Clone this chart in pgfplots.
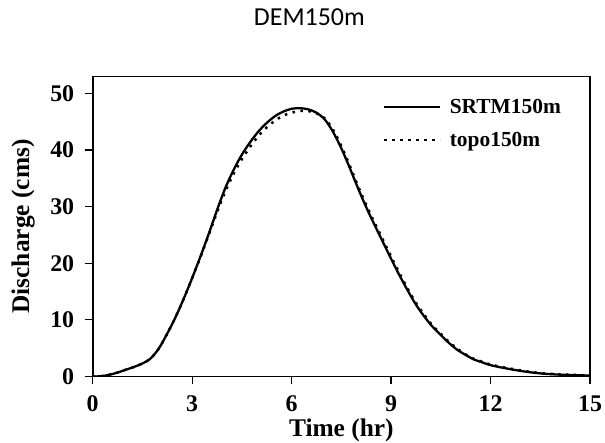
\documentclass[border=0pt]{standalone}
\usepackage{pgfplots}
\pgfplotsset{compat=1.18}
\usepackage{fontspec}
\setmainfont{Liberation Serif}
\newfontfamily\titlefont{Carlito}
\begin{document}
\begin{tikzpicture}[x=1bp,y=1bp]
\useasboundingbox (0,0) rectangle (605,443);
\begin{axis}[
  at={(92.7bp,66.5bp)}, anchor=south west,
  scale only axis, width=497.3bp, height=300bp,
  xmin=0, xmax=15, ymin=0, ymax=53,
  xtick={0,3,6,9,12,15}, ytick={0,10,20,30,40,50},
  xtick pos=left, ytick pos=left,
  tick align=outside, major tick length=8bp,
  axis line style={line width=1.6bp},
  every tick/.style={line width=1.2bp, black},
  /pgf/number format/assume math mode=true,
  ticklabel style={font=\fontsize{24}{24}\selectfont\bfseries},
  xticklabel style={yshift=-8bp},
  yticklabel style={xshift=-7bp},
  xlabel={Time (hr)}, ylabel={Discharge (cms)},
  label style={font=\fontsize{25.5}{26}\selectfont\bfseries},
  xlabel style={at={(axis description cs:0.5,0)}, anchor=base, yshift=-60.5bp},
  ylabel style={at={(axis description cs:0,0.5)}, anchor=center, yshift=69.7bp},
  title={DEM150m},
  title style={font=\titlefont\fontsize{26}{26}\selectfont, at={(axis description cs:0.5,1)}, anchor=center, yshift=53bp, xshift=-32bp},
  legend style={draw=none, fill=none, inner sep=0pt, at={(axis description cs:0.583,0.93)}, anchor=north west,
    font=\fontsize{21.5}{22}\selectfont\bfseries, row sep=14bp,
    nodes={inner sep=1.5bp},
    /tikz/every odd column/.append style={column sep=7bp}},
  legend cell align=left,
  legend image code/.code={\draw[#1] (0bp,0bp) -- (56bp,0bp);},
]
\addplot[black, line width=2.3bp, smooth] coordinates {
(0,0) (0.25,0.05) (0.5,0.3) (0.75,0.7) (1.0,1.2) (1.25,1.7) (1.5,2.3) (1.75,3.2)
(2.0,5.0) (2.25,7.6) (2.5,10.5) (2.75,13.8) (3.0,17.4) (3.25,21.2) (3.5,25.2)
(3.75,29.4) (4.0,33.3) (4.25,36.5) (4.5,39.2) (4.75,41.4) (5.0,43.3) (5.25,44.8)
(5.5,46.0) (5.75,46.8) (6.0,47.3) (6.25,47.4) (6.5,47.2) (6.75,46.6) (7.0,45.4)
(7.25,43.2) (7.5,40.3) (7.75,36.9) (8.0,33.3) (8.25,29.9) (8.5,26.8) (8.75,23.8)
(9.0,20.8) (9.25,17.9) (9.5,15.2) (9.75,12.7) (10.0,10.6) (10.25,8.8) (10.5,7.3)
(10.75,5.9) (11.0,4.7) (11.25,3.8) (11.5,3.0) (11.75,2.5) (12.0,2.0) (12.5,1.4)
(13.0,0.9) (13.5,0.55) (14.0,0.35) (14.5,0.25) (15.0,0.15)
};
\addlegendentry{SRTM150m}
\addplot[black, line width=2.5bp, dash pattern=on 2.5bp off 5.5bp, smooth] coordinates {
(0,0) (0.25,0.05) (0.5,0.3) (0.75,0.7) (1.0,1.2) (1.25,1.7) (1.5,2.3) (1.75,3.2)
(2.0,5.0) (2.25,7.6) (2.5,10.5) (2.75,13.8) (3.0,17.4) (3.25,21.1) (3.5,25.0)
(3.75,29.0) (4.0,32.7) (4.25,35.8) (4.5,38.4) (4.75,40.6) (5.0,42.5) (5.25,44.0)
(5.5,45.2) (5.75,46.1) (6.0,46.6) (6.25,46.9) (6.5,46.9) (6.75,46.5) (7.0,45.6)
(7.25,43.6) (7.5,40.7) (7.75,37.3) (8.0,33.7) (8.25,30.3) (8.5,27.2) (8.75,24.2)
(9.0,21.2) (9.25,18.3) (9.5,15.5) (9.75,13.0) (10.0,10.9) (10.25,9.0) (10.5,7.5)
(10.75,6.1) (11.0,4.9) (11.25,3.9) (11.5,3.1) (11.75,2.6) (12.0,2.1) (12.5,1.5)
(13.0,1.0) (13.5,0.6) (14.0,0.4) (14.5,0.28) (15.0,0.18)
};
\addlegendentry{topo150m}
\end{axis}
\end{tikzpicture}
\end{document}
